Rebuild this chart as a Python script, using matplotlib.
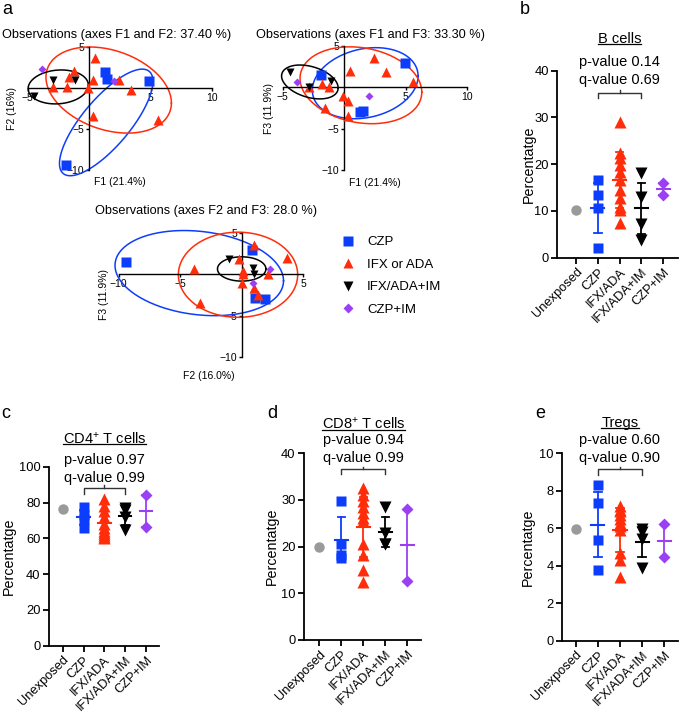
import numpy as np
import matplotlib.pyplot as plt
from matplotlib.lines import Line2D

plt.rcParams['font.family'] = ['Liberation Sans', 'DejaVu Sans']
plt.rcParams['mathtext.fontset'] = 'custom'
plt.rcParams['mathtext.rm'] = 'Liberation Sans'
plt.rcParams['mathtext.it'] = 'Liberation Sans:italic'
plt.rcParams['mathtext.bf'] = 'Liberation Sans:bold'

W, H = 680, 716

# ---- panel a : PCA observation scores (F1, F2, F3) ----
groups = ['CZP', 'IFX or ADA', 'IFX/ADA+IM', 'CZP+IM']
czp_f1 = [1.3, 1.5, 4.9, -1.9]
czp_f2 = [1.9, 1.1, 0.8, -9.4]
czp_f3 = [-3.0, -2.85, 2.9, 1.5]
ifx_f1 = [0.5, -1.25, -1.6, -2.9, -1.8, -0.1, 0.3, 2.4, 3.4, 0.3, 5.6]
ifx_f2 = [3.7, 2.1, 1.3, 0.1, 0.1, 0.05, 1.0, 1.0, -0.2, -3.4, -3.9]
ifx_f3 = [2.0, 0.05, -2.5, 0.0, 0.4, -1.1, -1.7, 3.6, 1.9, -3.45, 0.7]
combo_f1 = [-2.9, -1.1, -4.45]
combo_f2 = [1.0, 0.95, -1.0]
combo_f3 = [0.05, 0.8, 1.8]
czpim_f1 = [-3.85, 2.0]
czpim_f2 = [2.3, 0.9]
czpim_f3 = [0.7, -1.1]

# confidence ellipses: centre x, centre y, half width, half height, correlation
ell12_czp = [1.4, -4.2, 3.8, 6.5, 0.77]
ell12_ifx = [1.6, -0.25, 5.1, 5.25, -0.30]
ell12_combo = [-2.5, 0.13, 2.45, 2.07, 0.1]
ell13_czp = [1.7, 0.5, 4.3, 4.3, 0.2]
ell13_ifx = [1.35, 0.25, 4.95, 4.65, -0.18]
ell13_combo = [-2.8, 0.65, 2.3, 2.05, -0.35]
ell23_czp = [-3.45, 0.15, 6.85, 5.15, -0.18]
ell23_ifx = [-0.3, -0.05, 4.85, 5.15, 0.0]
ell23_combo = [0.0, 0.65, 1.97, 1.47, 0.0]

# ---- panels b-e : cell percentages ----
cats = ['Unexposed', 'CZP', 'IFX/ADA', 'IFX/ADA+IM', 'CZP+IM']
b_unexp = [10.2]
b_czp = [16.6, 13.4, 10.6, 2.0]
b_ifx = [29.1, 22.3, 21.3, 19.8, 18.4, 16.6, 14.5, 12.7, 10.9, 10.2, 7.4]
b_combo = [18.2, 13.0, 7.2, 3.8]
b_czpim = [16.0, 13.4]
c_unexp = [76.2]
c_czp = [77.3, 73.0, 71.0, 65.5]
c_ifx = [82, 78, 75, 72, 68, 66, 64, 63, 62, 61, 60]
c_combo = [77.0, 76.0, 72.0, 64.5]
c_czpim = [84.2, 66.1]
d_unexp = [20.0]
d_czp = [29.8, 20.5, 18.2, 17.6]
d_ifx = [32.5, 31.0, 29.8, 28.5, 27.3, 26.2, 25.5, 20.5, 18.2, 15.0, 12.5]
d_combo = [28.5, 23.0, 20.6, 20.5]
d_czpim = [28.0, 12.7]
e_unexp = [5.94]
e_czp = [8.3, 7.33, 5.37, 3.77]
e_ifx = [7.2, 7.0, 6.9, 6.7, 6.5, 6.3, 6.1, 5.9, 4.7, 4.3, 3.4]
e_combo = [5.95, 5.8, 5.45, 3.9]
e_czpim = [6.23, 4.45]

BLUE = '#0d3dfc'
RED = '#ff2d0a'
BLACK = '#000000'
PURPLE = '#9b3ff5'
GRAY = '#9a9a9a'
pca_style = [(BLUE, 's', 6.5), (RED, '^', 6.5), (BLACK, 'v', 6), (PURPLE, 'D', 4.5)]
dot_style = [(GRAY, 'o', 7.5), (BLUE, 's', 7.5), (RED, '^', 8), (BLACK, 'v', 8), (PURPLE, 'D', 6)]

fig = plt.figure(figsize=(W / 100, H / 100), dpi=100)


def box(left, top, right, bottom):
    return fig.add_axes([left / W, 1 - bottom / H, (right - left) / W, (bottom - top) / H])


def ellipse(ax, e, color):
    t = np.linspace(0, 2 * np.pi, 300)
    cx, cy, sx, sy, r = e
    x = cx + sx * np.cos(t)
    y = cy + sy * (r * np.cos(t) + np.sqrt(1 - r * r) * np.sin(t))
    ax.plot(x, y, color=color, lw=1.1, clip_on=False, zorder=2)


def pca_panel(ax, xs, ys, ells, xlim, xticks, title, tpos, xlabel, xlpos, ylabel, ylpos):
    ax.set_xlim(xlim)
    ax.set_ylim(-10, 5)
    ax.patch.set_visible(False)
    for s in ['top', 'right']:
        ax.spines[s].set_visible(False)
    ax.spines['left'].set_position(('data', 0))
    ax.spines['bottom'].set_position(('data', 0))
    for s in ['left', 'bottom']:
        ax.spines[s].set_linewidth(1.0)
    ax.set_xticks(xticks)
    ax.set_yticks([-10, -5, 5])
    ax.tick_params(direction='out', length=2.5, width=1.0, labelsize=7.5, pad=1)
    for e, (col, _, _) in zip(ells, pca_style):
        ellipse(ax, e, col)
    for x, y, (col, mk, ms) in zip(xs, ys, pca_style):
        ax.plot(x, y, ls='none', marker=mk, color=col, ms=ms, mec='none',
                clip_on=False, zorder=3)
    fig.text(tpos[0] / W, 1 - tpos[1] / H, title, fontsize=9.2, va='center', ha='left')
    fig.text(xlpos[0] / W, 1 - xlpos[1] / H, xlabel, fontsize=7.5, va='center', ha='center')
    fig.text(ylpos[0] / W, 1 - ylpos[1] / H, ylabel, fontsize=7.5, va='center',
             ha='center', rotation=90)


ax1 = box(27.5, 47, 212, 170)
pca_panel(ax1, [czp_f1, ifx_f1, combo_f1, czpim_f1], [czp_f2, ifx_f2, combo_f2, czpim_f2],
          [ell12_czp, ell12_ifx, ell12_combo], (-5, 10), [-5, 5, 10],
          'Observations (axes F1 and F2: 37.40 %)', (2, 35),
          'F1 (21.4%)', (120, 182), 'F2 (16%)', (12, 108))

ax2 = box(282.8, 46, 467.3, 170)
pca_panel(ax2, [czp_f1, ifx_f1, combo_f1, czpim_f1], [czp_f3, ifx_f3, combo_f3, czpim_f3],
          [ell13_czp, ell13_ifx, ell13_combo], (-5, 10), [-5, 5, 10],
          'Observations (axes F1 and F3: 33.30 %)', (256.5, 35),
          'F1 (21.4%)', (375, 183), 'F3 (11.9%)', (268.5, 108))

ax3 = box(118.7, 233, 303.2, 357)
pca_panel(ax3, [czp_f2, ifx_f2, combo_f2, czpim_f2], [czp_f3, ifx_f3, combo_f3, czpim_f3],
          [ell23_czp, ell23_ifx, ell23_combo], (-10, 5), [-10, -5, 5],
          'Observations (axes F2 and F3: 28.0 %)', (95, 211),
          'F2 (16.0%)', (209, 376), 'F3 (11.9%)', (104, 295))

handles = [Line2D([], [], ls='none', marker=mk, color=col, ms=ms + 1, mec='none')
           for col, mk, ms in pca_style]
fig.legend(handles, groups, loc='upper left', bbox_to_anchor=(341.5 / W, 1 - 236 / H),
           frameon=False, fontsize=9.5, borderpad=0, borderaxespad=0,
           handlelength=1.0, handletextpad=0.95, labelspacing=0.78)

# ---- dot plots ----
titles = []


def dot_panel(ax, data, ymax, yticks, xlim, title, pval, qval, ty, bracket, ylx):
    ax.set_xlim(xlim)
    ax.set_ylim(0, ymax)
    ax.patch.set_visible(False)
    for s in ['top', 'right']:
        ax.spines[s].set_visible(False)
    for s in ['left', 'bottom']:
        ax.spines[s].set_linewidth(1.3)
    ax.set_yticks(yticks)
    ax.set_xticks(range(len(cats)))
    ax.set_xticklabels(cats, rotation=45, ha='right', rotation_mode='anchor')
    ax.tick_params(direction='out', length=4, width=1.3, labelsize=9.3, pad=2)
    ax.set_ylabel('Percentatge', fontsize=10.3)
    ax.yaxis.set_label_coords(ylx, 0.5)
    for i, (vals, (col, mk, ms)) in enumerate(zip(data, dot_style)):
        ax.plot([i] * len(vals), vals, ls='none', marker=mk, color=col, ms=ms,
                mec='none', clip_on=False, zorder=3)
        if len(vals) > 1:
            m = np.mean(vals)
            sd = np.std(vals)
            ax.plot([i, i], [m - sd, m + sd], color=col, lw=1.3, zorder=4, clip_on=False)
            ax.plot([i - 0.3, i + 0.3], [m, m], color=col, lw=1.5, zorder=4)
            for v in (m - sd, m + sd):
                ax.plot([i - 0.17, i + 0.17], [v, v], color=col, lw=1.3, zorder=4,
                        clip_on=False)
    tr = ax.get_xaxis_transform()
    t = ax.text(2, ty[0], title, transform=tr, ha='center', va='center', fontsize=10.5)
    titles.append(t)
    ax.text(2, ty[1], pval, transform=tr, ha='center', va='center', fontsize=10.5)
    ax.text(2, ty[2], qval, transform=tr, ha='center', va='center', fontsize=10.5)
    y0, ydown, yup = bracket
    ax.plot([1, 1, 3, 3], [ydown, y0, y0, ydown], color='#333333', lw=1.0, clip_on=False)
    ax.plot([2, 2], [y0, yup], color='#333333', lw=1.0, clip_on=False)


ax_b = box(557.3, 70.7, 678, 257.7)
dot_panel(ax_b, [b_unexp, b_czp, b_ifx, b_combo, b_czpim], 40, [0, 10, 20, 30, 40],
          (-0.86, 4.68), 'B cells', 'p-value 0.14', 'q-value 0.69',
          (1.168, 1.048, 0.950), (35.2, 34.1, 35.9), -0.18)

ax_c = box(49, 466.7, 159.3, 645.7)
dot_panel(ax_c, [c_unexp, c_czp, c_ifx, c_combo, c_czpim], 100, [0, 20, 40, 60, 80, 100],
          (-0.66, 4.64), 'CD4$^{+}$ T cells', 'p-value 0.97', 'q-value 0.99',
          (1.159, 1.037, 0.935), (87.9, 84.7, 89.6), -0.30)

ax_d = box(304, 453.3, 420.7, 640)
dot_panel(ax_d, [d_unexp, d_czp, d_ifx, d_combo, d_czpim], 40, [0, 10, 20, 30, 40],
          (-0.70, 4.61), 'CD8$^{+}$ T cells', 'p-value 0.94', 'q-value 0.99',
          (1.157, 1.071, 0.973), (36.6, 35.5, 37.1), -0.217)

ax_e = box(562.3, 453.3, 677.7, 640.7)
dot_panel(ax_e, [e_unexp, e_czp, e_ifx, e_combo, e_czpim], 10, [0, 2, 4, 6, 8, 10],
          (-0.6, 4.6), 'Tregs', 'p-value 0.60', 'q-value 0.90',
          (1.163, 1.071, 0.973), (9.15, 8.84, 9.28), -0.234)

# panel letters
for letter, (x, y) in zip('abcde', [(7, 10), (525, 10), (6, 413), (272, 413), (540, 413)]):
    fig.text(x / W, 1 - y / H, letter, fontsize=13, ha='center', va='center')

# underline the cell-type titles
fig.canvas.draw()
for t in titles:
    bb = t.get_window_extent()
    yl = (bb.y0 + 2.0) / H
    fig.add_artist(Line2D([bb.x0 / W, bb.x1 / W], [yl, yl], color='black', lw=0.9,
                          transform=fig.transFigure))

fig.savefig('out.png', dpi=100)
